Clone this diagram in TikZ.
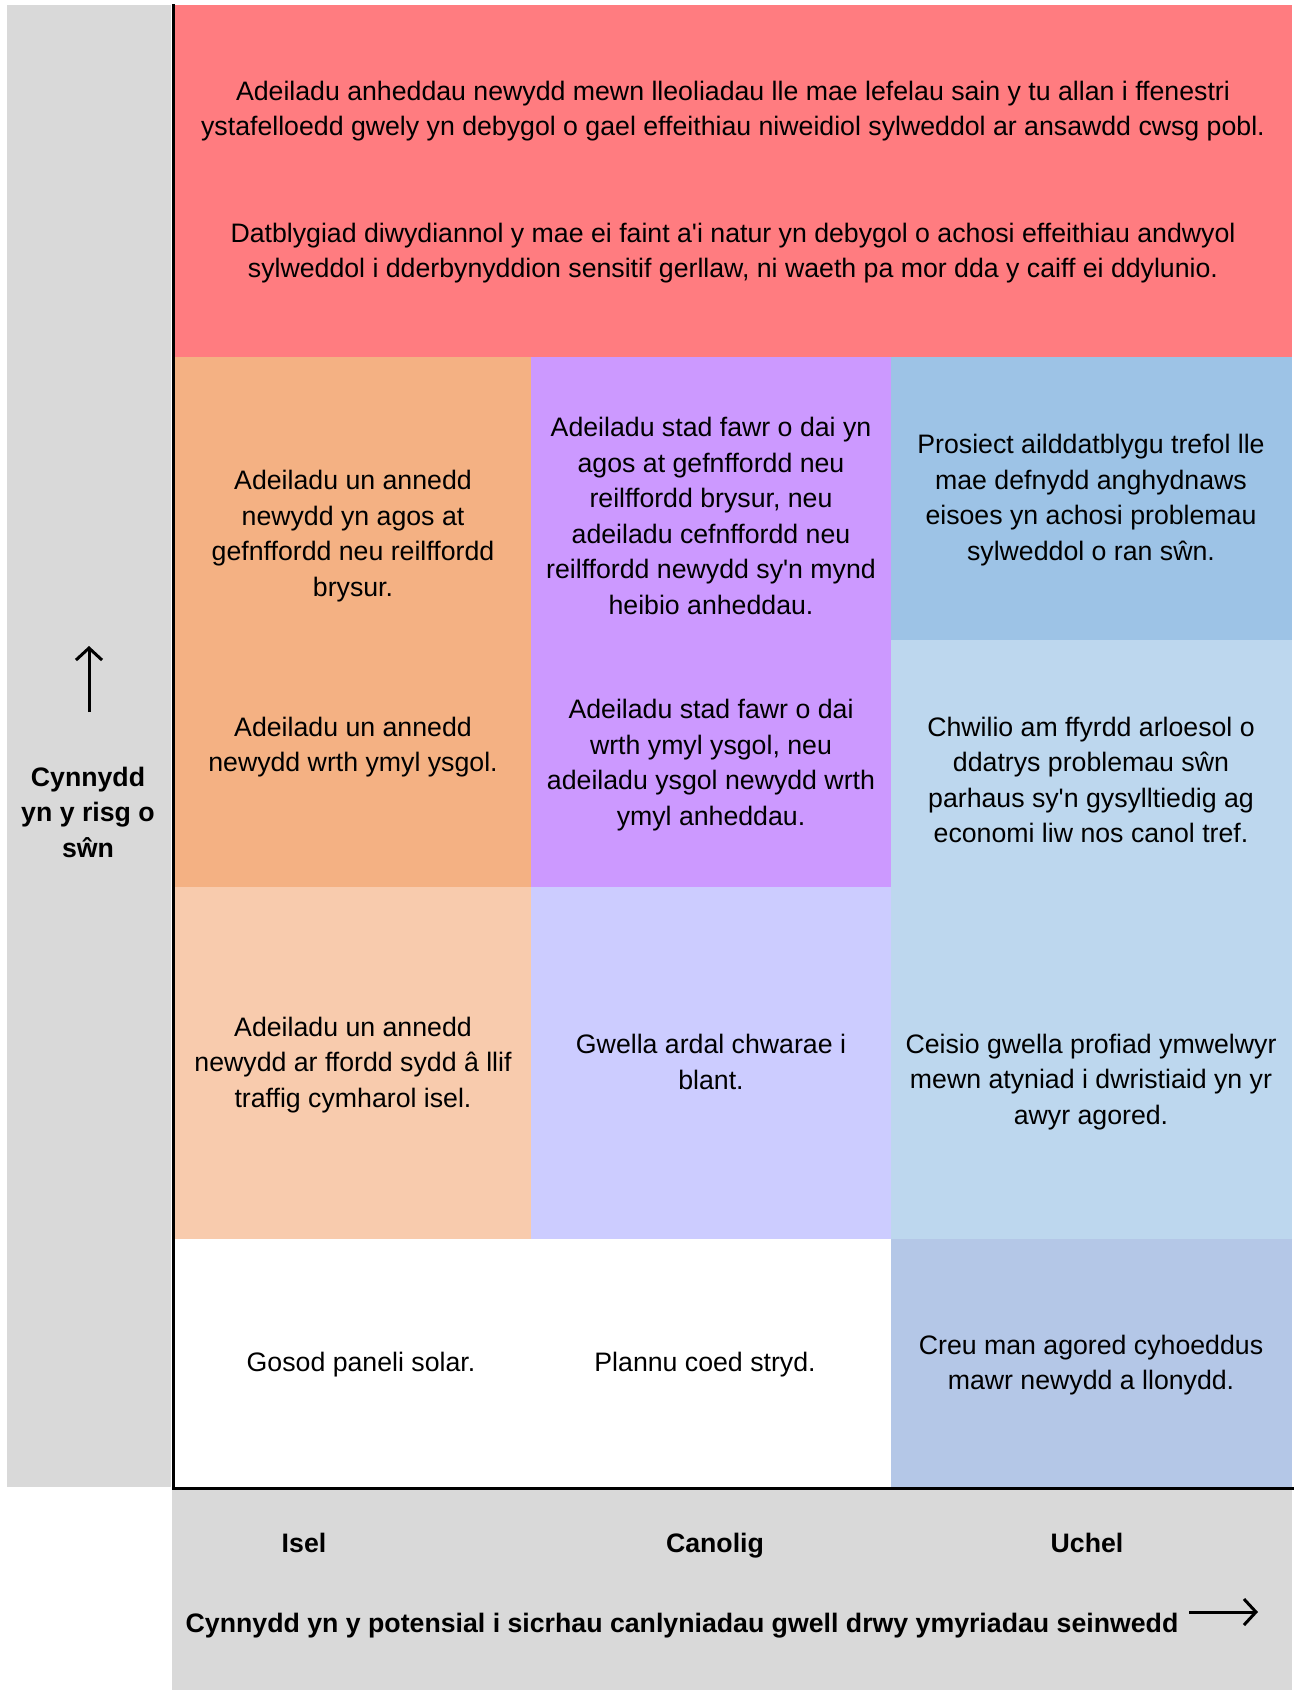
\documentclass[tikz,border=0pt]{standalone}
\usepackage{fontspec}
\setmainfont{Liberation Sans}
\usepackage{tikz}
\usetikzlibrary{arrows.meta}
\definecolor{cred}{HTML}{FF7C80}
\definecolor{corange}{HTML}{F4B183}
\definecolor{clorange}{HTML}{F8CBAD}
\definecolor{cpurple}{HTML}{CC99FF}
\definecolor{clavender}{HTML}{CCCCFF}
\definecolor{cblue}{HTML}{9DC3E6}
\definecolor{clblue}{HTML}{BDD7EE}
\definecolor{cbblue}{HTML}{B4C7E7}
\definecolor{cgrey}{HTML}{D9D9D9}
\newcommand{\ap}{\textquotesingle}
\tikzset{
    cell/.style={
        rectangle, draw=none, inner sep=0pt,
        anchor=north west
    },
    txt/.style={
        align=center, inner sep=0pt, text=black, yshift=-3pt,
        font=\fontsize{26.7}{35.5}\selectfont
    },
    axislabel/.style={
        txt, font=\fontsize{26.7}{35.5}\selectfont\bfseries
    },
    axis/.style={line width=3pt},
    pointer/.style={line width=3pt, -{Straight Barb[length=12pt,width=26pt,line width=3pt]}}
}
\begin{document}
\begin{tikzpicture}[x=1pt,y=-1pt]
	\useasboundingbox (0,0) rectangle (1296,1690);

	% grey panels for the two axes
	\node[cell, fill=cgrey, minimum width=164pt, minimum height=1482pt] (greyleft) at (7,5) {};
	\node[cell, fill=cgrey, minimum width=1120pt, minimum height=200pt] (greybottom) at (172,1490) {};

	% coloured cells
	\node[cell, fill=cred, minimum width=1117pt, minimum height=352pt] (red) at (175,5) {};
	\node[cell, fill=corange, minimum width=356pt, minimum height=530pt] (orange) at (175,357) {};
	\node[cell, fill=cpurple, minimum width=360pt, minimum height=530pt] (purple) at (531,357) {};
	\node[cell, fill=cblue, minimum width=401pt, minimum height=283pt] (blue) at (891,357) {};
	\node[cell, fill=clblue, minimum width=401pt, minimum height=599pt] (lblue) at (891,640) {};
	\node[cell, fill=clorange, minimum width=356pt, minimum height=352pt] (lorange) at (175,887) {};
	\node[cell, fill=clavender, minimum width=360pt, minimum height=352pt] (lavender) at (531,887) {};
	\node[cell, fill=white, minimum width=716pt, minimum height=248pt] (white) at (175,1239) {};
	\node[cell, fill=cbblue, minimum width=401pt, minimum height=248pt] (bblue) at (891,1239) {};

	% axes
	\coordinate (origin) at (173,1488);
	\coordinate (top) at (173,5);
	\coordinate (right) at (1292,1488);
	\draw[axis, line cap=rect] (top) -- (origin) -- (right);

	% texts
	\node[txt] (redA) at (733,108) {Adeiladu anheddau newydd mewn lleoliadau lle mae lefelau sain y tu allan i ffenestri\\ ystafelloedd gwely yn debygol o gael effeithiau niweidiol sylweddol ar ansawdd cwsg pobl.};
	\node[txt] (redB) at (733,250) {Datblygiad diwydiannol y mae ei faint a\ap i natur yn debygol o achosi effeithiau andwyol\\ sylweddol i dderbynyddion sensitif gerllaw, ni waeth pa mor dda y caiff ei ddylunio.};
	\node[txt] (orangeA) at (353,533) {Adeiladu un annedd\\ newydd yn agos at\\ gefnffordd neu reilffordd\\ brysur.};
	\node[txt] (orangeB) at (353,744) {Adeiladu un annedd\\ newydd wrth ymyl ysgol.};
	\node[txt] (purpleA) at (711,513) {Adeiladu stad fawr o dai yn\\ agos at gefnffordd neu\\ reilffordd brysur, neu\\ adeiladu cefnffordd neu\\ reilffordd newydd sy\ap n mynd\\ heibio anheddau.};
	\node[txt] (purpleB) at (711,762) {Adeiladu stad fawr o dai\\ wrth ymyl ysgol, neu\\ adeiladu ysgol newydd wrth\\ ymyl anheddau.};
	\node[txt] (blueA) at (1091,497) {Prosiect ailddatblygu trefol lle\\ mae defnydd anghydnaws\\ eisoes yn achosi problemau\\ sylweddol o ran sŵn.};
	\node[txt] (lblueA) at (1091,777) {Chwilio am ffyrdd arloesol o\\ ddatrys problemau sŵn\\ parhaus sy\ap n gysylltiedig ag\\ economi liw nos canol tref.};
	\node[txt] (lblueB) at (1091,1079) {Ceisio gwella profiad ymwelwyr\\ mewn atyniad i dwristiaid yn yr\\ awyr agored.};
	\node[txt] (lorangeA) at (353,1062) {Adeiladu un annedd\\ newydd ar ffordd sydd â llif\\ traffig cymharol isel.};
	\node[txt] (lavenderA) at (711,1059) {Gwella ardal chwarae i\\ blant.};
	\node[txt] (whiteA) at (361,1362) {Gosod paneli solar.};
	\node[txt] (whiteB) at (705,1362) {Plannu coed stryd.};
	\node[txt] (bblueA) at (1091,1362) {Creu man agored cyhoeddus\\ mawr newydd a llonydd.};

	% axis labels
	\node[axislabel, anchor=base, yshift=3pt] (low) at (304,1552) {Isel};
	\node[axislabel, anchor=base, yshift=3pt] (mid) at (715,1552) {Canolig};
	\node[axislabel, anchor=base, yshift=3pt] (high) at (1087,1552) {Uchel};
	\node[axislabel, anchor=base, yshift=3pt] (xtitle) at (682,1632) {Cynnydd yn y potensial i sicrhau canlyniadau gwell drwy ymyriadau seinwedd};
	\node[axislabel] (ytitle) at (88,809) {Cynnydd\\ yn y risg o\\ sŵn};

	\coordinate (xfrom) at (1189,1612);
	\coordinate (xto) at (1258,1612);
	\coordinate (yfrom) at (89,712);
	\coordinate (yto) at (89,646);
	\draw[pointer] (xfrom) -- (xto);
	\draw[pointer] (yfrom) -- (yto);
\end{tikzpicture}
\end{document}
